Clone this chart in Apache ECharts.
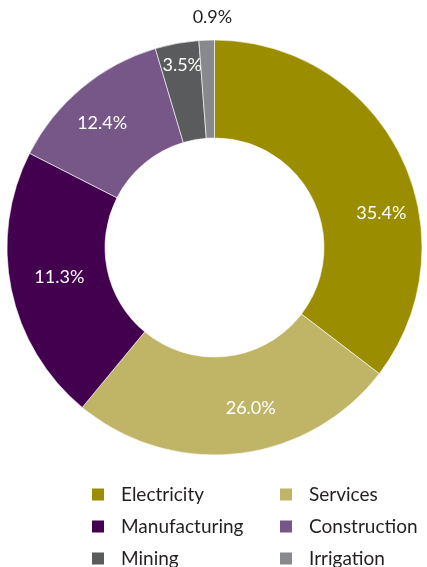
<!DOCTYPE html>
<html>
<head>
<meta charset="utf-8">
<script src="https://cdn.jsdelivr.net/npm/echarts@6/dist/echarts.min.js"></script>
<style>
html,body{margin:0;padding:0;background:#fff;}
#chart{width:427px;height:567px;}
</style>
</head>
<body>
<div id="chart"></div>
<script>
// Categories
const categories = ['Electricity', 'Services', 'Manufacturing', 'Construction', 'Mining', 'Irrigation'];
// Slice sizes as drawn in the picture (percent of the ring)
const sliceValues = [35.4, 25.6, 21.5, 12.9, 3.4, 1.2];
// Percent labels printed on the chart
const labelValues = [35.4, 26.0, 11.3, 12.4, 3.5, 0.9];
// Legend columns
const legendLeftColumn = ['Electricity', 'Manufacturing', 'Mining'];
const legendRightColumn = ['Services', 'Construction', 'Irrigation'];

const colors = ['#9b8d00', '#c0b566', '#43004f', '#765787', '#5a5b5d', '#88898c'];
const labelOffsets = [[22, 37], [18, 0], [3, -3], [-9, 0], [-3, -23], [4, -69]];
const labelColors = ['#fff', '#fff', '#fff', '#fff', '#fff', '#231f20'];
const FONT = 'Lato, "Open Sans", sans-serif';

const chart = echarts.init(document.getElementById('chart'), null, {renderer: 'canvas'});

const data = categories.map((name, i) => ({
  name: name,
  value: sliceValues[i],
  itemStyle: {color: colors[i]},
  label: {
    show: true,
    position: 'inside',
    offset: labelOffsets[i],
    color: labelColors[i],
    formatter: labelValues[i].toFixed(1) + '%'
  }
}));

const legendBase = {
  orient: 'vertical',
  top: 485,
  height: 200,
  padding: 0,
  itemWidth: 14,
  itemHeight: 14,
  itemGap: 13,
  icon: 'rect',
  selectedMode: false,
  textStyle: {
    fontFamily: FONT,
    fontSize: 19,
    lineHeight: 18,
    color: '#231f20',
    padding: [0, 0, 0, 11]
  }
};

chart.setOption({
  animation: false,
  color: colors,
  legend: [
    Object.assign({}, legendBase, {left: 90, data: legendLeftColumn}),
    Object.assign({}, legendBase, {left: 278, data: legendRightColumn})
  ],
  series: [{
    type: 'pie',
    center: [214.5, 247.5],
    radius: [109.5, 207.5],
    startAngle: 90,
    clockwise: true,
    avoidLabelOverlap: false,
    silent: true,
    itemStyle: {borderColor: '#ffffff', borderWidth: 0.6},
    label: {
      fontFamily: FONT,
      fontSize: 18
    },
    labelLine: {show: false},
    data: data
  }]
});
</script>
</body>
</html>
